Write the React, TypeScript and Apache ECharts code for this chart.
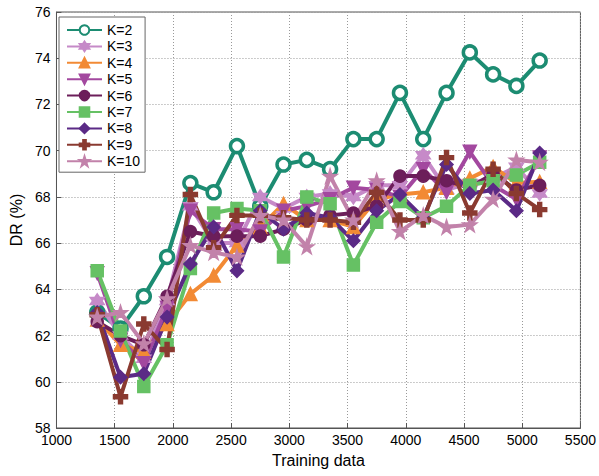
import React, { useEffect, useRef } from "react";
import * as echarts from "echarts";

const xValues = [1350, 1550, 1750, 1950, 2150, 2350, 2550, 2750, 2950, 3150, 3350, 3550, 3750, 3950, 4150, 4350, 4550, 4750, 4950, 5150];

const seriesNames = ["K=2", "K=3", "K=4", "K=5", "K=6", "K=7", "K=8", "K=9", "K=10"];

const k2 = [63.0, 62.3, 63.7, 65.4, 68.6, 68.2, 70.2, 67.6, 69.4, 69.6, 69.2, 70.5, 70.5, 72.5, 70.5, 72.5, 74.25, 73.3, 72.8, 73.9];
const k3 = [63.5, 62.0, 61.0, 63.5, 67.6, 66.0, 66.0, 68.0, 67.5, 68.0, 68.15, 68.0, 68.5, 68.5, 69.8, 68.3, 68.6, 68.8, 69.3, 68.15];
const k4 = [62.7, 61.6, 61.3, 62.5, 63.8, 64.6, 65.9, 66.7, 67.7, 67.0, 67.0, 66.7, 67.9, 68.1, 68.2, 68.4, 68.8, 69.3, 68.6, 68.65];
const k5 = [64.7, 61.8, 60.8, 63.2, 67.4, 66.6, 66.6, 66.5, 67.4, 67.6, 67.9, 68.4, 68.3, 68.0, 69.2, 68.2, 69.95, 68.5, 67.9, 69.7];
const k6 = [62.6, 62.0, 61.6, 63.7, 66.5, 66.3, 66.3, 66.3, 66.6, 67.0, 67.2, 67.3, 67.6, 68.9, 68.9, 68.7, 68.4, 69.0, 68.3, 68.5];
const k7 = [64.8, 62.2, 59.8, 61.6, 64.9, 67.3, 67.5, 67.4, 65.4, 68.0, 67.7, 65.05, 66.9, 67.8, 67.1, 67.6, 68.5, 68.7, 68.95, 69.5];
const k8 = [63.0, 60.2, 60.35, 62.8, 65.1, 66.7, 64.8, 67.4, 66.6, 67.3, 67.1, 66.1, 67.4, 68.1, 67.1, 69.4, 68.15, 68.3, 67.4, 69.9];
const k9 = [62.9, 59.35, 62.5, 61.4, 68.1, 65.8, 67.2, 67.2, 67.1, 67.0, 67.0, 66.9, 68.2, 67.0, 67.0, 69.7, 67.3, 69.2, 68.15, 67.45];
const k10 = [62.8, 63.0, 61.65, 63.6, 65.9, 65.6, 65.4, 67.2, 67.0, 65.85, 68.9, 67.0, 68.7, 66.5, 67.2, 66.7, 66.8, 67.9, 69.6, 69.5];

const seriesData = [k2, k3, k4, k5, k6, k7, k8, k9, k10];

const colors = ["#1c8c72", "#c68ac8", "#f28a34", "#a3489f", "#6c1e5a", "#66c164", "#5b2a86", "#8a3a30", "#c282aa"];

const hexagram = "path://M5,0L6.5,2.5L9.33,2.5L7.9,5L9.33,7.5L6.5,7.5L5,10L3.5,7.5L0.67,7.5L2.1,5L0.67,2.5L3.5,2.5Z";
const star5 = "path://M5,0L6.2,3.6L10,3.6L6.9,5.9L8.1,9.5L5,7.3L1.9,9.5L3.1,5.9L0,3.6L3.8,3.6Z";
const triDown = "path://M0,0L10,0L5,9Z";
const plus = "path://M3.6,0H6.4V3.6H10V6.4H6.4V10H3.6V6.4H0V3.6H3.6Z";

const symbols = ["circle", hexagram, "triangle", triDown, "circle", "rect", "diamond", plus, star5];
const symbolSizes = [13, 14, 13, 13, 12, 12, 13, 14, 14];

export default function App() {
  const ref = useRef<HTMLDivElement>(null);
  useEffect(() => {
    if (!ref.current) return;
    const chart = echarts.init(ref.current, undefined, { renderer: "svg" });
    const font = "Liberation Sans";
    chart.setOption({
      animation: false,
      backgroundColor: "#ffffff",
      textStyle: { fontFamily: font },
      grid: { left: 53, right: 18, top: 12, bottom: 48, show: true, borderColor: "#555", borderWidth: 1 },
      legend: {
        orient: "vertical",
        left: 59,
        top: 17,
        data: seriesNames,
        backgroundColor: "#ffffff",
        borderColor: "#666",
        borderWidth: 1,
        borderRadius: 0,
        padding: [6, 5, 4, 7],
        itemWidth: 35,
        itemHeight: 12,
        itemGap: 2.4,
        textStyle: { fontSize: 14, lineHeight: 14, color: "#000", fontFamily: font },
      },
      xAxis: {
        type: "value",
        min: 1000,
        max: 5500,
        interval: 500,
        name: "Training data",
        nameLocation: "middle",
        nameGap: 24,
        nameTextStyle: { fontSize: 16, color: "#000", fontFamily: font },
        axisLine: { show: true, onZero: false, lineStyle: { color: "#555" } },
        axisTick: { show: true, inside: true, length: 5, lineStyle: { color: "#555" } },
        axisLabel: { fontSize: 14, color: "#000", margin: 5, fontFamily: font, formatter: (v: number) => String(v) },
        splitLine: { show: true, lineStyle: { color: "#999", type: [1, 2], width: 1 } },
      },
      yAxis: {
        type: "value",
        min: 58,
        max: 76,
        interval: 2,
        name: "DR (%)",
        nameLocation: "middle",
        nameGap: 31,
        nameTextStyle: { fontSize: 16, color: "#000", fontFamily: font },
        axisLine: { show: true, onZero: false, lineStyle: { color: "#555" } },
        axisTick: { show: true, inside: true, length: 5, lineStyle: { color: "#555" } },
        axisLabel: { fontSize: 14, color: "#000", margin: 6, fontFamily: font },
        splitLine: { show: true, lineStyle: { color: "#999", type: [1, 2], width: 1 } },
      },
      series: seriesNames.map((name, i) => ({
        name,
        type: "line",
        data: xValues.map((x, j) => [x, seriesData[i][j]]),
        symbol: symbols[i],
        symbolSize: symbolSizes[i],
        showAllSymbol: true,
        lineStyle: { color: colors[i], width: 4 },
        itemStyle: {
          color: i === 0 ? "#ffffff" : colors[i],
          borderColor: colors[i],
          borderWidth: i === 0 ? 3.5 : 1.5,
        },
        emphasis: { disabled: true },
      })),
    });
    return () => chart.dispose();
  }, []);
  return <div ref={ref} style={{ position: "absolute", left: 0, top: 0, width: 599, height: 476 }} />;
}
